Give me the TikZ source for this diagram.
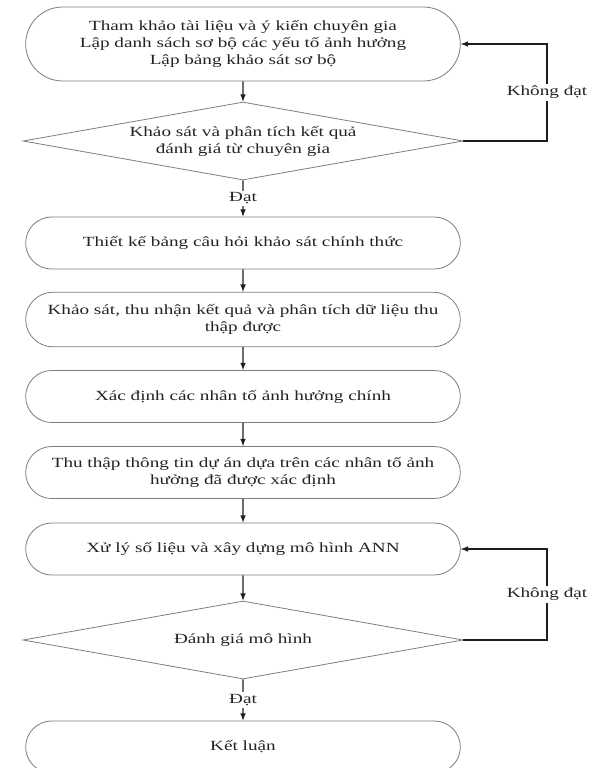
\documentclass[tikz,border=0pt]{standalone}
\usepackage{fontspec}
\setmainfont{Liberation Serif}[FakeStretch=1.37]
\usetikzlibrary{shapes.geometric,shapes.misc}

\definecolor{boxgray}{RGB}{125,125,125}
\definecolor{txt}{RGB}{35,35,35}
\definecolor{arrowc}{RGB}{30,30,30}

\tikzset{
  every node/.style={font=\fontsize{10.5pt}{12.75pt}\selectfont},
  stepbox/.style={rounded rectangle, draw=boxgray, line width=0.6pt, minimum width=330pt, minimum height=39pt, align=center, text=txt, inner sep=2pt},
  check/.style={diamond, aspect=5.64, draw=boxgray, line width=0.6pt, minimum width=330pt, minimum height=58.5pt, align=center, text=txt, inner sep=0pt},
  flow/.style={->, >=latex, line width=0.9pt, draw=arrowc},
  lbl/.style={fill=white, text=txt, inner sep=1.5pt},
}

\begin{document}
\begin{tikzpicture}[x=0.75pt,y=-0.75pt]
\useasboundingbox (0,0) rectangle (595,768);

\node[stepbox, minimum height=55.5pt] (thamkhao) at (243,44) {Tham khảo tài liệu và ý kiến chuyên gia\\Lập danh sách sơ bộ các yếu tố ảnh hưởng\\Lập bảng khảo sát sơ bộ};
\node[check] (ksbd) at (243,141) {Khảo sát và phân tích kết quả\\đánh giá từ chuyên gia};
\node[stepbox] (thietke) at (243,243) {Thiết kế bảng câu hỏi khảo sát chính thức};
\node[stepbox, minimum height=41pt] (khaosat) at (243,319.5) {Khảo sát, thu nhận kết quả và phân tích dữ liệu thu\\thập được};
\node[stepbox] (xacdinh) at (243,396.5) {Xác định các nhân tố ảnh hưởng chính};
\node[stepbox] (thuthap) at (243,472.5) {Thu thập thông tin dự án dựa trên các nhân tố ảnh\\hưởng đã được xác định};
\node[stepbox] (xuly) at (243,549) {Xử lý số liệu và xây dựng mô hình ANN};
\node[check] (danhgia) at (243,640) {Đánh giá mô hình};
\node[stepbox] (ketluan) at (243,747) {Kết luận};

\coordinate (loop1) at (547,141);
\coordinate (loop2) at (547,640);

\draw[flow] (thamkhao) -- (ksbd);
\draw[flow] (ksbd) -- node[lbl] {Đạt} (thietke);
\draw[flow] (thietke) -- (khaosat);
\draw[flow] (khaosat) -- (xacdinh);
\draw[flow] (xacdinh) -- (thuthap);
\draw[flow] (thuthap) -- (xuly);
\draw[flow] (xuly) -- (danhgia);
\draw[flow] (danhgia) -- node[lbl] {Đạt} (ketluan);

% vong lap khi khong dat
\draw[flow] (ksbd.east) -- (loop1) -- node[lbl] {Không đạt} (loop1 |- thamkhao.east) -- (thamkhao.east);
\draw[flow] (danhgia.east) -- (loop2) -- node[lbl] {Không đạt} (loop2 |- xuly.east) -- (xuly.east);
\end{tikzpicture}
\end{document}
